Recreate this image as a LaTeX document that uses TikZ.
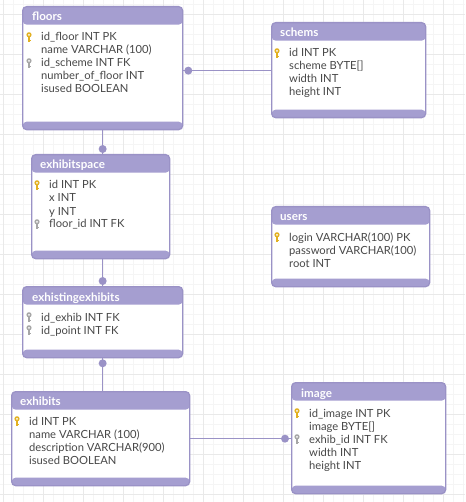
\documentclass[tikz,border=0pt]{standalone}
\usepackage{fontspec}
\setmainfont{Lato}
\definecolor{pur}{HTML}{A59ED0}
\definecolor{purline}{HTML}{9A92C6}
\definecolor{txt}{HTML}{484848}
\definecolor{gold}{HTML}{E2B022}
\definecolor{kgray}{HTML}{A6A6A6}
\definecolor{gminor}{HTML}{F5F5F5}
\definecolor{gmajor}{HTML}{E9E9E9}
\tikzset{
  tbl/.style={draw=purline, line width=1.3pt, rounded corners=4pt, fill=white, inner sep=0pt, anchor=north west,
    path picture={\fill[pur] ([yshift=-18pt]path picture bounding box.north west) rectangle (path picture bounding box.north east);
      \fill[pur] (path picture bounding box.south west) rectangle ([yshift=8pt]path picture bounding box.south east);}},
  ttl/.style={font=\fontsize{11.6}{13}\selectfont\bfseries, text=white, inner sep=0pt, anchor=base west},
  fld/.style={font=\fontsize{11.2}{13}\selectfont, text=txt, inner sep=0pt, anchor=base west},
  conn/.style={draw=purline, line width=1.5pt},
  dotc/.style={fill=purline},
}
\newcommand\keyicon[3]{%
  \fill[#1] (#2,#3-2.2) circle (2.6pt);
  \fill[white] (#2,#3-2.2) circle (1pt);
  \fill[#1] (#2-0.8,#3) rectangle (#2+0.8,#3+5);
  \fill[#1] (#2+0.8,#3+2.6) rectangle (#2+2,#3+3.8);}
\begin{document}
\begin{tikzpicture}[x=1pt,y=-1pt]
\useasboundingbox (0,0) rectangle (465,502);
\fill[white] (0,0) rectangle (465,502);
\foreach \i in {3,13,...,463} \draw[gminor, line width=0.5pt] (\i,0) -- (\i,502);
\foreach \i in {4,14,...,502} \draw[gminor, line width=0.5pt] (0,\i) -- (465,\i);
\foreach \i in {3,43,...,463} \draw[gmajor, line width=0.5pt] (\i,0) -- (\i,502);
\foreach \i in {14,54,...,502} \draw[gmajor, line width=0.5pt] (0,\i) -- (465,\i);

% floors
\node[tbl, minimum width=160pt, minimum height=123pt] (floors) at (22,6) {};
\node[ttl] (floors-t) at (32,21) {floors};
\node[fld] (floors-1) at (41,41) {id\_floor INT PK};
\node[fld] (floors-2) at (41,54) {name VARCHAR (100)};
\node[fld] (floors-3) at (41,67) {id\_scheme INT FK};
\node[fld] (floors-4) at (41,80) {number\_of\_floor INT};
\node[fld] (floors-5) at (41,93) {isused BOOLEAN};
\keyicon{gold}{29}{37}
\keyicon{kgray}{29}{63}

% schems
\node[tbl, minimum width=154pt, minimum height=95pt] (schems) at (271,22) {};
\node[ttl] (schems-t) at (280,37) {schems};
\node[fld] (schems-1) at (289,57) {id INT PK};
\node[fld] (schems-2) at (289,70) {scheme BYTE[]};
\node[fld] (schems-3) at (289,83) {width INT};
\node[fld] (schems-4) at (289,96) {height INT};
\keyicon{gold}{277}{53}

% exhibitspace
\node[tbl, minimum width=138pt, minimum height=104pt] (space) at (31,154) {};
\node[ttl] (space-t) at (40,169) {exhibitspace};
\node[fld] (space-1) at (49,189) {id INT PK};
\node[fld] (space-2) at (49,202) {x INT};
\node[fld] (space-3) at (49,215) {y INT};
\node[fld] (space-4) at (49,228) {floor\_id INT FK};
\keyicon{gold}{37}{185}
\keyicon{kgray}{37}{224}

% users
\node[tbl, minimum width=158pt, minimum height=80pt] (users) at (271,206) {};
\node[ttl] (users-t) at (280,221) {users};
\node[fld] (users-1) at (289,241) {login VARCHAR(100) PK};
\node[fld] (users-2) at (289,254) {password VARCHAR(100)};
\node[fld] (users-3) at (289,267) {root INT};
\keyicon{gold}{277}{237}

% exhistingexhibits
\node[tbl, minimum width=160pt, minimum height=71pt] (exist) at (22,286) {};
\node[ttl] (exist-t) at (32,301) {exhistingexhibits};
\node[fld] (exist-1) at (41,321) {id\_exhib INT FK};
\node[fld] (exist-2) at (41,334) {id\_point INT FK};
\keyicon{kgray}{29}{317}
\keyicon{kgray}{29}{330}

% exhibits
\node[tbl, minimum width=178pt, minimum height=94pt] (exhibits) at (11,391) {};
\node[ttl] (exhibits-t) at (20,405) {exhibits};
\node[fld] (exhibits-1) at (29,425) {id INT PK};
\node[fld] (exhibits-2) at (29,438) {name VARCHAR (100)};
\node[fld] (exhibits-3) at (29,451) {description VARCHAR(900)};
\node[fld] (exhibits-4) at (29,464) {isused BOOLEAN};
\keyicon{gold}{17}{421}

% image
\node[tbl, minimum width=154pt, minimum height=111pt] (image) at (291,382) {};
\node[ttl] (image-t) at (301,397) {image};
\node[fld] (image-1) at (309,417) {id\_image INT PK};
\node[fld] (image-2) at (309,430) {image BYTE[]};
\node[fld] (image-3) at (309,443) {exhib\_id INT FK};
\node[fld] (image-4) at (309,456) {width INT};
\node[fld] (image-5) at (309,469) {height INT};
\keyicon{gold}{297}{413}
\keyicon{kgray}{297}{439}

% connectors
\draw[conn] ([yshift=-2.5pt]floors.east) -- ([yshift=-2.5pt]floors.east -| schems.west);
\fill[dotc] ([xshift=5pt,yshift=-2.5pt]floors.east) circle (4pt);
\draw[conn] (floors.south) -- (floors.south |- space.north);
\fill[dotc] ([yshift=5pt]floors.south |- space.north) circle (4pt);
\draw[conn] ([xshift=2pt]space.south) -- ([xshift=2pt]space.south |- exist.north);
\fill[dotc] ([xshift=2pt,yshift=5pt]space.south |- exist.north) circle (4pt);
\draw[conn] (exist.south) -- (exist.south |- exhibits.north);
\fill[dotc] ([yshift=-5pt]exist.south) circle (4pt);
\draw[conn] (exhibits.east) -- (exhibits.east -| image.west);
\fill[dotc] ([xshift=-6pt]exhibits.east -| image.west) circle (4pt);
\end{tikzpicture}
\end{document}
